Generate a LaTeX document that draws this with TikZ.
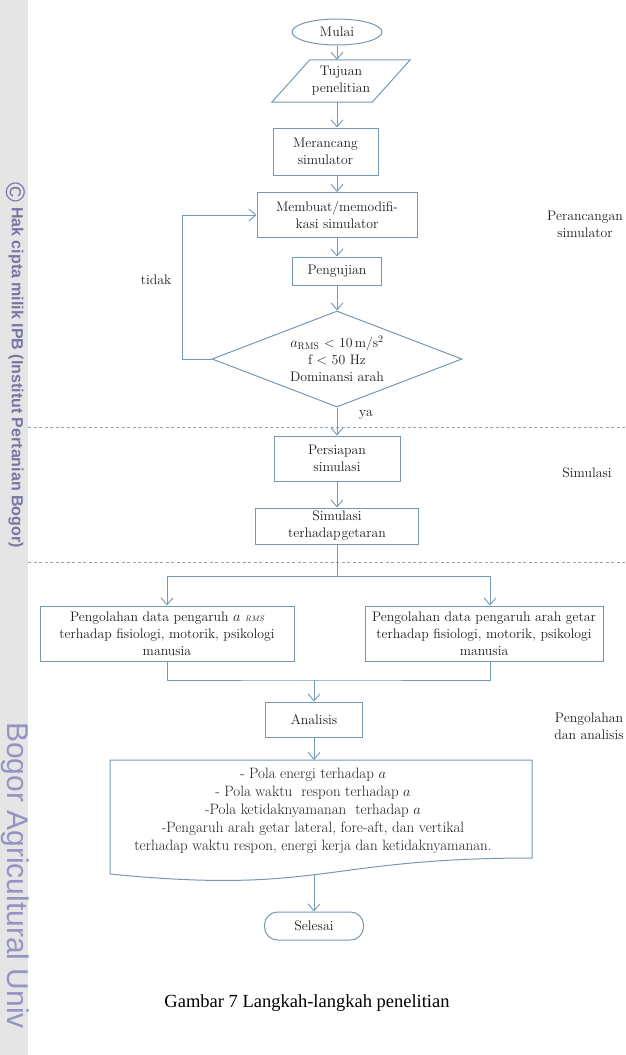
\documentclass[tikz,border=0pt]{standalone}
\usepackage{fontspec}
\newfontfamily\capfont{Liberation Serif}
\newfontfamily\sidefont{Liberation Sans}
\usetikzlibrary{shapes.geometric,arrows.meta}
\definecolor{linec}{RGB}{120,152,178}
\definecolor{txtc}{RGB}{30,30,30}
\definecolor{dashc}{RGB}{150,162,172}
\definecolor{sidebg}{RGB}{229,229,229}
\definecolor{sidetxt}{RGB}{118,118,165}
\definecolor{sidetxtb}{RGB}{148,148,195}
\begin{document}
\begin{tikzpicture}[x=1pt,y=-1pt,
  every node/.style={text=txtc, font=\fontsize{13.8}{17}\selectfont},
  box/.style={draw=linec, line width=1pt, align=center, inner sep=0pt},
  arr/.style={draw=linec, line width=0.9pt, -{Straight Barb[length=7pt,width=12pt]}},
  conn/.style={draw=linec, line width=0.9pt},
  sep/.style={draw=dashc, line width=0.8pt, dash pattern=on 3pt off 2.5pt},
  lbl/.style={align=center, inner sep=0pt},
  side/.style={rotate=-90, inner sep=0pt}
]
\useasboundingbox (0,0) rectangle (625,1055);
\fill[sidebg] (0,0) rectangle (28,1055);

% sidebar texts
\node[side, anchor=center, font=\sidefont\fontsize{27}{27}\selectfont, text=sidetxt] (copy) at (15.5,192) {©};
\node[side, anchor=base west, font=\sidefont\bfseries\fontsize{16}{16}\selectfont, text=sidetxt] (hak) at (12,207) {Hak cipta milik IPB (Institut Pertanian Bogor)};
\node[side, anchor=base west, font=\sidefont\fontsize{30}{30}\selectfont, text=sidetxtb] (bau) at (7,722) {Bogor Agricultural Univ};

% separators
\draw[sep] (28,427) -- (625,427);
\draw[sep] (28,562) -- (625,562);

% nodes
\node[box, ellipse, minimum width=90, minimum height=26] (mulai) at (337,32) {Mulai};
\node[lbl, minimum width=100, minimum height=42] (tujuan) at (341,81) {Tujuan\\penelitian};
\draw[draw=linec, line width=1pt] ([xshift=-19pt]tujuan.south west) -- ([xshift=19pt]tujuan.north west) -- ([xshift=19pt]tujuan.north east) -- ([xshift=-19pt]tujuan.south east) -- cycle;
\node[box, minimum width=105, minimum height=47] (meran) at (325.5,151.5) {Merancang\\simulator};
\node[box, minimum width=160, minimum height=45] (membuat) at (337,215) {Membuat/memodifi-\\kasi simulator};
\node[box, minimum width=89, minimum height=28] (pengujian) at (337,271) {Pengujian};
\node[box, diamond, aspect=2.6, minimum width=250, minimum height=96] (dia) at (337,359)
  {$a_{\mathrm{RMS}}$ < 10\,m/s$^2$\\f < 50 Hz\\Dominansi arah};
\node[box, minimum width=126, minimum height=45] (pers) at (337,458.5) {Persiapan\\simulasi};
\node[box, minimum width=163, minimum height=36] (simg) at (337,526) {Simulasi\\terhadap\hspace{1pt}getaran};
\coordinate (brc) at (337,576);
\node[box, minimum width=254, minimum height=55] (lbox) at (167,633.5)
  {Pengolahan data pengaruh $a$ {\itshape\footnotesize RMS}\\terhadap fisiologi, motorik, psikologi\\manusia};
\node[box, minimum width=238, minimum height=55] (rbox) at (484,633.5)
  {Pengolahan data pengaruh arah getar\\terhadap fisiologi, motorik, psikologi\\manusia};
\coordinate (joinc) at (314,680);
\node[box, minimum width=97, minimum height=35] (analisis) at (314,719.5) {Analisis};
\coordinate (doctop) at (314,760);
\coordinate (docbot) at (314,874.5);
\draw[draw=linec, line width=1pt] (110,874) -- (110,760) -- (532,760) -- (532,858) .. controls (321,858) and (321,895) .. (110,874);
\node[lbl, font=\fontsize{15}{18}\selectfont] (doc) at (313,811)
  {- Pola energi terhadap $a$\\- Pola waktu\ \ respon terhadap $a$\\-Pola ketidaknyamanan\ \ terhadap $a$\\-Pengaruh arah getar lateral, fore-aft, dan vertikal\\terhadap waktu respon, energi kerja dan ketidaknyamanan.};
\node[box, rounded corners=13pt, minimum width=99, minimum height=28] (selesai) at (314,926) {Selesai};

% labels
\node[lbl] (tidak) at (156,280) {tidak};
\node[lbl] (ya) at (366,415) {ya};
\node[lbl] (lab1) at (585,224) {Perancangan\\simulator};
\node[lbl] (lab2) at (587,473) {Simulasi};
\node[lbl] (lab3) at (589,726) {Pengolahan\\dan analisis};
\node[font=\capfont\fontsize{18.5}{22}\selectfont, text=black, inner sep=0pt] (cap) at (307,1003) {Gambar 7 Langkah-langkah penelitian};

% connectors
\draw[arr] (mulai) -- (mulai |- tujuan.north);
\draw[arr] (tujuan.south -| mulai) -- (mulai |- meran.north);
\draw[arr] (meran.south -| mulai) -- (membuat);
\draw[arr] (membuat) -- (pengujian);
\draw[arr] (pengujian) -- (dia);
\draw[arr] (dia.west) -- ++(-29,0) |- (membuat.west);
\draw[arr] (dia) -- (pers);
\draw[arr] (pers) -- (simg);
\draw[conn] (simg) -- (brc);
\draw[arr] (brc) -| (lbox.north);
\draw[arr] (brc) -| ([xshift=6pt]rbox.north);
\draw[conn] (lbox.south) |- (joinc) -| ([xshift=6pt]rbox.south);
\draw[arr] (joinc) -- (analisis);
\draw[arr] (analisis) -- (doctop);
\draw[arr] (docbot) -- (selesai);
\end{tikzpicture}
\end{document}
